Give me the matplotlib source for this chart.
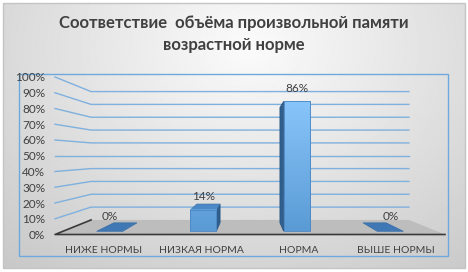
import numpy as np
import matplotlib
matplotlib.use("Agg")
import matplotlib.pyplot as plt
from matplotlib.patches import Polygon, Rectangle
from matplotlib.colors import LinearSegmentedColormap

categories = ["НИЖЕ НОРМЫ", "НИЗКАЯ НОРМА", "НОРМА", "ВЫШЕ НОРМЫ"]
values = [0, 14, 86, 0]
y_ticks = list(range(0, 101, 10))
title = "Соответствие  объёма произвольной памяти\nвозрастной норме"

plt.rcParams["font.family"] = ["Lato", "DejaVu Sans"]

W, H = 468, 272
fig = plt.figure(figsize=(W / 100, H / 100), dpi=100)

# background with soft radial gradient
bg = fig.add_axes([0, 0, 1, 1])
bg.axis("off")
yy, xx = np.mgrid[0:H, 0:W]
r = np.hypot((xx - 250) / 320.0, (yy - 45) / 250.0)
shade = 0.985 - 0.17 * np.clip(r, 0, 1.2)
bg.imshow(shade, cmap="gray", vmin=0, vmax=1, extent=(3, 465, 268, 3), aspect="auto")
bg.add_patch(Rectangle((3, 3), 462, 265, fill=False, ec="#c4c4c4", lw=1))
bg.add_patch(Rectangle((19, 74), 429, 182, fill=False, ec="#6fa8dc", lw=1))
bg.set_xlim(0, W)
bg.set_ylim(H, 0)

fig.text(0.5, 1 - 34 / H, title, ha="center", va="center", fontsize=12,
         fontweight="bold", color="#404040", linespacing=1.45)

# main axes = front plane of the pseudo-3D chart
ax = fig.add_axes([55 / W, (H - 234.5) / H, 390 / W, (234.5 - 77) / H])
ax.patch.set_alpha(0)
for sp in ax.spines.values():
    sp.set_visible(False)

XC, YC, K = 1.5, 50.0, 0.185
BW, Z0, Z1 = 0.28, 0.22, 0.8


def proj(x, v, z):
    s = 1 - K * z
    return XC + (x - XC) * s, YC + (v - YC) * s


def quad(pts, **kw):
    ax.add_patch(Polygon([proj(*p) for p in pts], closed=True, **kw))


grid_c = "#7fb0de"
for t in y_ticks[1:]:
    p = [proj(-0.5, t, 0), proj(-0.5, t, 1), proj(3.5, t, 1)]
    ax.plot([q[0] for q in p], [q[1] for q in p], color=grid_c, lw=1, zorder=1,
            clip_on=False)

# floor
quad([(-0.5, 0, 0), (3.5, 0, 0), (3.5, 0, 1), (-0.5, 0, 1)], fc="#bdbdbd",
     ec="none", zorder=2, clip_on=False)
p = [proj(-0.5, 0, 1), proj(-0.5, 0, 0), proj(3.5, 0, 0)]
ax.plot([q[0] for q in p], [q[1] for q in p], color="#3a3a3a", lw=1.2, zorder=3,
        clip_on=False)

cmap = LinearSegmentedColormap.from_list("bar", ["#5b9bd5", "#8ecbff"])
for i, v in enumerate(values):
    x0, x1 = i - BW / 2, i + BW / 2
    if v == 0:
        quad([(x0, 0, Z0), (x1, 0, Z0), (x1, 0, Z1), (x0, 0, Z1)], fc="#3f78b4",
             ec="#3a70a8", lw=0.5, zorder=4)
    else:
        xs = x1 if i < XC else x0
        quad([(xs, 0, Z0), (xs, v, Z0), (xs, v, Z1), (xs, 0, Z1)], fc="#2f5f8f",
             ec="#2a5580", lw=0.5, zorder=4)
        if v < YC:
            quad([(x0, v, Z0), (x1, v, Z0), (x1, v, Z1), (x0, v, Z1)], fc="#4a88c8",
                 ec="#3a6fa5", lw=0.5, zorder=4)
        (fx0, fy0), (fx1, fy1) = proj(x0, 0, Z0), proj(x1, v, Z0)
        grad = np.linspace(0, v / 100.0, 64).reshape(-1, 1)
        ax.imshow(grad, cmap=cmap, vmin=0, vmax=1, origin="lower",
                  extent=(fx0, fx1, fy0, fy1), aspect="auto", zorder=5)
        ax.add_patch(Rectangle((fx0, fy0), fx1 - fx0, fy1 - fy0, fill=False,
                               ec="#4a86c2", lw=0.6, zorder=6))
    lx, ly = proj(i, v, Z0)
    ax.annotate(f"{v}%", (lx, ly), xytext=(0, 11 if v == 0 else 9.5),
                textcoords="offset points", ha="center", va="center",
                fontsize=8.5, color="#404040", zorder=7)

ax.set_xlim(-0.5, 3.5)
ax.set_ylim(0, 100)
ax.set_yticks(y_ticks, [f"{t}%" for t in y_ticks])
ax.set_xticks(range(len(categories)), categories)
ax.tick_params(axis="y", length=0, pad=7, labelsize=8.5, labelcolor="#404040")
ax.tick_params(axis="x", length=0, pad=8, labelsize=7.5, labelcolor="#404040")

fig.savefig("out.png", dpi=100)
